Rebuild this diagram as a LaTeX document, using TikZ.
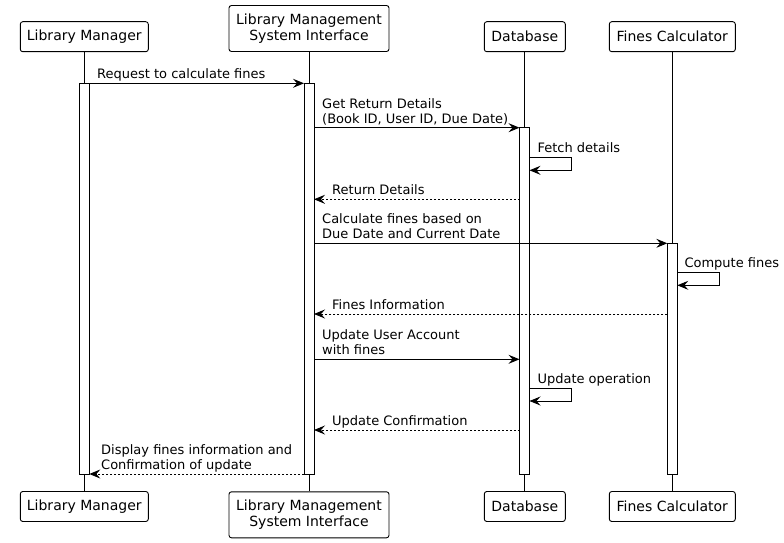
\documentclass[tikz,border=0pt]{standalone}
\usepackage{fontspec}
\setmainfont{DejaVu Sans}
\usetikzlibrary{arrows.meta}
\begin{document}
\begin{tikzpicture}[x=1pt,y=-1pt,
  part/.style={draw, rounded corners=2.5pt, line width=0.9pt, inner sep=0pt, align=center, font=\fontsize{14}{16}\selectfont, fill=white, minimum height=30pt},
  bar/.style={draw, fill=white, line width=0.9pt, minimum width=10pt, inner sep=0pt, outer sep=0pt},
  life/.style={line width=0.9pt},
  msg/.style={line width=0.9pt, -{Stealth[length=11pt,width=9pt,inset=4pt]}},
  ret/.style={msg, dash pattern=on 2pt off 2pt},
  lbl/.style={anchor=south west, inner sep=0pt, text depth=0pt, align=left, font=\fontsize{13}{15}\selectfont}
]
\fill[white] (0,0) rectangle (784,543);
\useasboundingbox (0,0) rectangle (784,543);

% participants (top)
\node[part, minimum width=128pt] (lmT) at (84.3,36.7) {Library Manager};
\node[part, minimum width=160pt, minimum height=46pt] (lmsiT) at (309,28.5) {Library Management\\System Interface};
\node[part, minimum width=81pt] (dbT) at (524.8,36.7) {Database};
\node[part, minimum width=126pt] (fcT) at (672.3,36.7) {Fines Calculator};
% participants (bottom)
\node[part, minimum width=128pt] (lmB) at (84.3,506.5) {Library Manager};
\node[part, minimum width=160pt, minimum height=46pt] (lmsiB) at (309,514.8) {Library Management\\System Interface};
\node[part, minimum width=81pt] (dbB) at (524.8,506.5) {Database};
\node[part, minimum width=126pt] (fcB) at (672.3,506.5) {Fines Calculator};

% lifelines
\draw[life] (lmT.south) -- (lmB.north);
\draw[life] (lmsiT.south) -- (lmsiB.north);
\draw[life] (dbT.south) -- (dbB.north);
\draw[life] (fcT.south) -- (fcB.north);

% activation bars
\node[bar, minimum height=390.7pt] (lmA) at (84.3,278.65) {};
\node[bar, minimum height=390.7pt] (lmsiA) at (309,278.65) {};
\node[bar, minimum height=346.3pt] (dbA) at (524.5,300.85) {};
\node[bar, minimum height=230.7pt] (fcA) at (672.3,358.65) {};

% message levels
\coordinate (y1) at (0,83.3);
\coordinate (y2) at (0,127.7);
\coordinate (s1a) at (0,157.3);
\coordinate (s1b) at (0,170.3);
\coordinate (y3) at (0,199.3);
\coordinate (y4) at (0,243.3);
\coordinate (s2a) at (0,272.7);
\coordinate (s2b) at (0,285.3);
\coordinate (y5) at (0,314);
\coordinate (y6) at (0,359.3);
\coordinate (s3a) at (0,388.3);
\coordinate (s3b) at (0,401);
\coordinate (y7) at (0,430);
\coordinate (y8) at (0,474);

% messages
\draw[msg] (lmA.east |- y1) -- (lmsiA.west |- y1);
\draw[msg] (lmsiA.east |- y2) -- (dbA.west |- y2);
\draw[msg] (dbA.east |- s1a) -- ++(42.4,0) |- (dbA.east |- s1b);
\draw[ret] (dbA.west |- y3) -- (lmsiA.east |- y3);
\draw[msg] (lmsiA.east |- y4) -- (fcA.west |- y4);
\draw[msg] (fcA.east |- s2a) -- ++(42,0) |- (fcA.east |- s2b);
\draw[ret] (fcA.west |- y5) -- (lmsiA.east |- y5);
\draw[msg] (lmsiA.east |- y6) -- (dbA.west |- y6);
\draw[msg] (dbA.east |- s3a) -- ++(42.4,0) |- (dbA.east |- s3b);
\draw[ret] (dbA.west |- y7) -- (lmsiA.east |- y7);
\draw[ret] (lmsiA.west |- y8) -- (lmA.east |- y8);

% labels
\node[lbl] (t1) at (97,78.8) {Request to calculate fines};
\node[lbl] (t2) at (322,123.2) {Get Return Details\\(Book ID, User ID, Due Date)};
\node[lbl] (t3) at (537.3,152.5) {Fetch details};
\node[lbl] (t4) at (332,194.8) {Return Details};
\node[lbl] (t5) at (322,238.8) {Calculate fines based on\\Due Date and Current Date};
\node[lbl] (t6) at (684.3,268) {Compute fines};
\node[lbl] (t7) at (332,309.5) {Fines Information};
\node[lbl] (t8) at (322,354.8) {Update User Account\\with fines};
\node[lbl] (t9) at (537.3,383.5) {Update operation};
\node[lbl] (t10) at (332,425.5) {Update Confirmation};
\node[lbl] (t11) at (101,469.5) {Display fines information and\\Confirmation of update};
\end{tikzpicture}
\end{document}
